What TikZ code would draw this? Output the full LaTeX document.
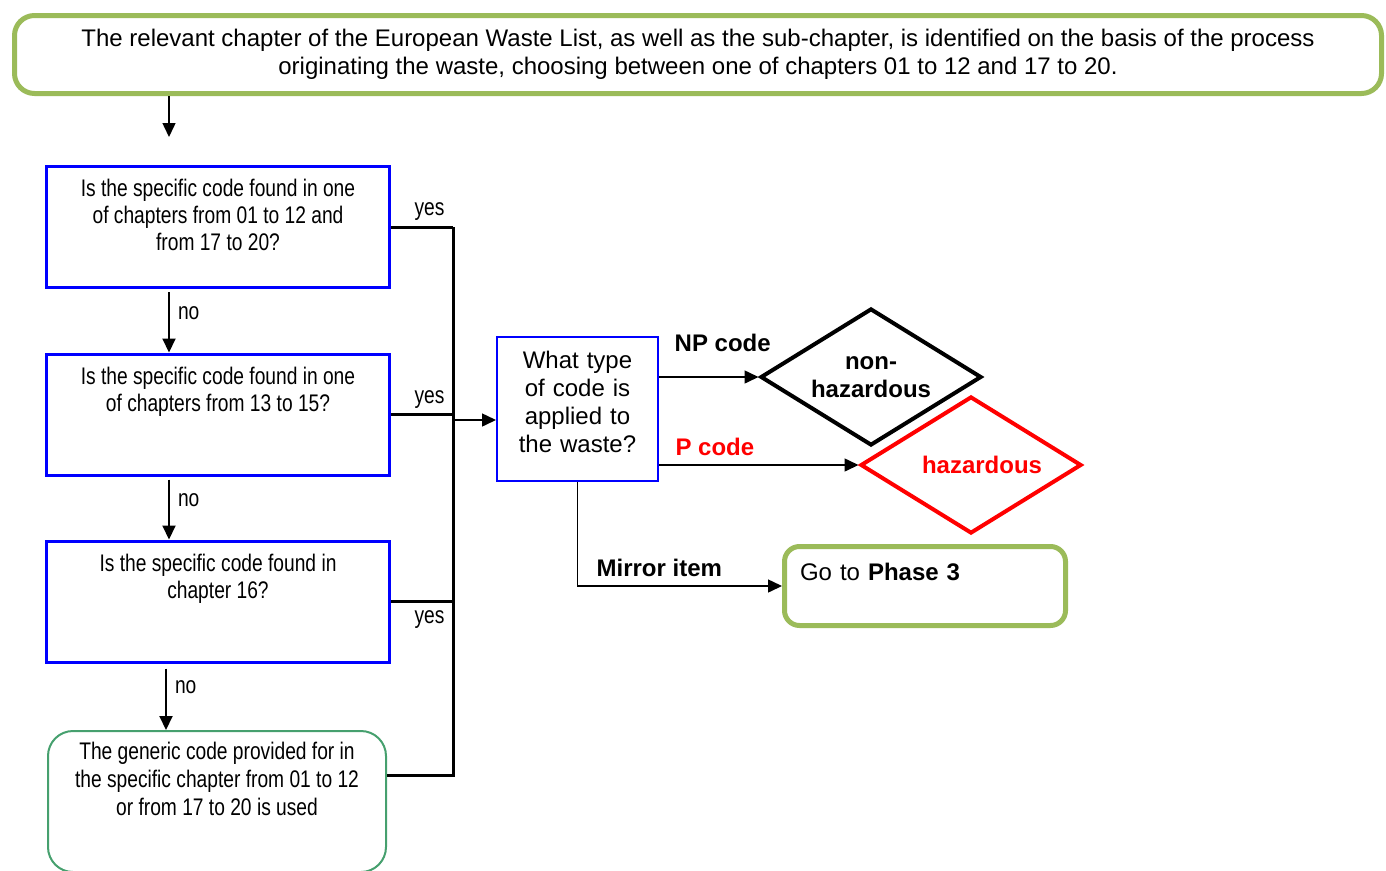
\documentclass[tikz,border=0pt]{standalone}
\usepackage{fontspec}
\setmainfont{Liberation Sans}
\newfontfamily\narrowfont{Liberation Sans}[FakeStretch=0.8]
\usetikzlibrary{shapes.geometric,arrows.meta,positioning}
\definecolor{leafgreen}{RGB}{155,187,89}
\definecolor{seagreen}{RGB}{70,160,110}
\tikzset{
    startbox/.style={
           rectangle, rounded corners=20pt,
           draw=leafgreen, line width=5pt,
           minimum width=1367pt, minimum height=78pt,
           align=center,
           font=\fontsize{24}{28}\selectfont
           },
    question/.style={
           rectangle,
           draw=blue, line width=3pt,
           inner xsep=4pt, inner ysep=0pt,
           text width=335pt, align=flush center,
           text height=30pt, text depth=91pt,
           font=\narrowfont\fontsize{24}{27}\selectfont
           },
    generic/.style={
           rectangle, rounded corners=25pt,
           draw=seagreen, line width=2pt,
           inner xsep=4pt, inner ysep=0pt,
           text width=330pt, align=flush center,
           text height=28pt, text depth=113pt,
           font=\narrowfont\fontsize{24}{28}\selectfont
           },
    typebox/.style={
           rectangle,
           draw=blue, line width=2pt,
           inner xsep=5.5pt, inner ysep=0pt,
           text width=150pt, align=center,
           text height=31pt, text depth=113pt,
           font=\fontsize{24}{28}\selectfont
           },
    verdict/.style={
           diamond, aspect=1.6,
           line width=4pt, inner sep=0pt,
           minimum width=221pt, minimum height=137pt,
           align=center,
           font=\bfseries\fontsize{24}{28}\selectfont
           },
    phasebox/.style={
           rectangle, rounded corners=15pt,
           draw=leafgreen, line width=5pt,
           inner xsep=15.5pt, inner ysep=0pt,
           text width=250pt, align=left,
           text height=33.5pt, text depth=45.5pt,
           font=\fontsize{24}{28}\selectfont
           },
    answer/.style={
           font=\narrowfont\fontsize{24}{26}\selectfont,
           inner sep=8pt
           },
    codelabel/.style={
           font=\bfseries\fontsize{24}{28}\selectfont,
           inner sep=9pt
           },
    yesline/.style={
           line width=3pt
           }
}

\begin{document}
\begin{tikzpicture}[x=1pt,y=-1pt, >={Triangle[length=14pt,width=13pt]}, line width=1.5pt, auto]
\clip (0,0) rectangle (1386,870);
   \node[startbox] (origin) at (698,54.5) {The relevant chapter of the European Waste List, as well as the sub-chapter, is identified on the basis of the process\\ originating the waste, choosing between one of chapters 01 to 12 and 17 to 20.};
   \coordinate (entry) at (169,137);
   \node[question] (q1) at (218,227) {Is the specific code found in one\\ of chapters from 01 to 12 and\\ from 17 to 20?};
   \node[question] (q2) at (218,414.5) {Is the specific code found in one\\ of chapters from 13 to 15?};
   \node[question] (q3) at (218,601.5) {Is the specific code found in\\ chapter 16?};
   \node[generic] (gen) at (217,801.5) {The generic code provided for in\\ the specific chapter from 01 to 12\\ or from 17 to 20 is used};
   \node[typebox] (what) at (577.5,409) {What type\\ of code is\\ applied to\\ the waste?};
   \node[verdict, draw=black] (nonhaz) at (871,377) {non-\\hazardous};
   \node[verdict, draw=red, text=red] (haz) at (971,465) {\hspace*{22pt}hazardous};
   \node[phasebox] (phase) at (925,586) {Go to \textbf{Phase 3}};
   \coordinate (bus) at (453,420);

   \draw[->] (origin.south -| entry) -- (entry);
   \path[->, line width=2pt]
    ([yshift=-3pt]q1.south -| entry) edge node[answer, pos=0.35] {no} (q2.north -| entry)
    ([yshift=-3pt]q2.south -| entry) edge node[answer, pos=0.35] {no} (q3.north -| entry)
    ([yshift=-5pt]q3.south -| 166,0) edge node[answer, pos=0.3] {no} (gen.north -| 166,0);

   % yes branches into one bus
   \path[yesline]
    (q1.east) edge node[answer, pos=0.62, inner sep=5pt] {yes} (q1.east -| bus)
    (q2.east) edge node[answer, pos=0.62, inner sep=5pt] {yes} (q2.east -| bus)
    (q3.east) edge node[answer, swap, pos=0.62] {yes} (q3.east -| bus);
   \draw[yesline] ([yshift=-45pt]gen.north east) -| (q1.east -| bus);
   \draw[->] (bus) -- (bus -| what.west);

   \draw[->] (what.east |- nonhaz.west) -- node[codelabel, pos=0.64, yshift=16pt] {NP code} (nonhaz.west);
   \draw[->] (what.east |- haz.west) -- node[codelabel, text=red, pos=0.28] {P code} (haz.west);
   \draw[->] (what.south) |- node[codelabel, pos=0.7] {Mirror item} (phase.west);
\end{tikzpicture}
\end{document}
